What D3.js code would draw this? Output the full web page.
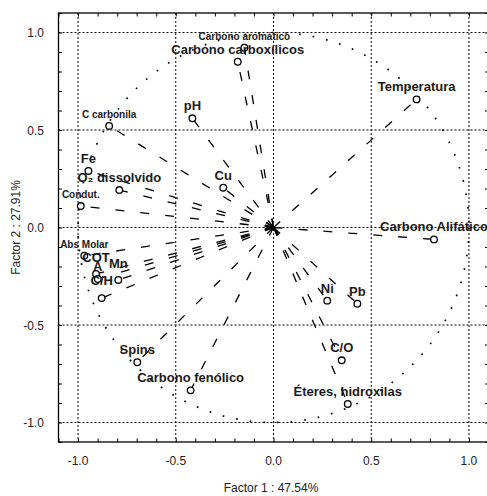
<!DOCTYPE html>
<html>
<head>
<meta charset="utf-8">
<script src="https://cdn.jsdelivr.net/npm/d3@7"></script>
<style>
  body { margin: 0; background: #fff; }
  svg { display: block; font-family: 'Liberation Sans', Arial, sans-serif; }
</style>
</head>
<body>
<div class="chart"></div>
<script>
// variable names and loadings
const names = [
  'Carbono aromático', 'Carbono carboxílicos', 'Temperatura', 'pH',
  'C carbonila', 'Fe', 'O₂ dissolvido', 'Cu', 'Condut.', 'Abs Molar',
  'COT', 'A', 'Mn', 'C/H', 'Spins', 'Carbono fenólico',
  'Carbono Alifático', 'Ni', 'Pb', 'C/O', 'Éteres, hidroxilas'
];
const factor1 = [
  -0.149, -0.183, 0.732, -0.415,
  -0.841, -0.947, -0.789, -0.257, -0.986, -0.968,
  -0.908, -0.899, -0.794, -0.879, -0.697, -0.424,
  0.821, 0.275, 0.429, 0.349, 0.380
];
const factor2 = [
  0.922, 0.850, 0.657, 0.560,
  0.521, 0.290, 0.192, 0.204, 0.110, -0.145,
  -0.238, -0.264, -0.269, -0.362, -0.691, -0.835,
  -0.061, -0.375, -0.391, -0.681, -0.905
];
const majorTicks = [-1.0, -0.5, 0.0, 0.5, 1.0];
const xTitle = 'Factor 1 : 47.54%';
const yTitle = 'Factor 2 : 27.91%';

const width = 487;
const height = 496;
const smallLabels = new Set(['Carbono aromático', 'C carbonila', 'Condut.', 'Abs Molar']);
// crowded labels sit a bit higher in the original
const labelLift = {'COT': 4, 'Mn': 4, 'C/H': 5};

const data = names.map((n, i) => ({name: n, f1: factor1[i], f2: factor2[i]}));

const x = d3.scaleLinear().domain([-1.1, 1.1]).range([58.5, 488.5]);
const y = d3.scaleLinear().domain([-1.1, 1.1]).range([442, 13]);
const minorTicks = d3.range(-11, 12).map((i) => i / 10);

const svg = d3
    .select('div.chart')
    .append('svg')
    .attr('width', width)
    .attr('height', height);

// dotted grid
svg.append('g')
    .selectAll('line.vgrid')
    .data(majorTicks)
    .enter()
    .append('line')
    .attr('x1', (d) => x(d)).attr('x2', (d) => x(d))
    .attr('y1', y(1.1)).attr('y2', y(-1.1))
    .attr('stroke', '#000')
    .attr('stroke-width', 1)
    .attr('stroke-dasharray', '2,2');

svg.append('g')
    .selectAll('line.hgrid')
    .data(majorTicks)
    .enter()
    .append('line')
    .attr('y1', (d) => y(d)).attr('y2', (d) => y(d))
    .attr('x1', x(-1.1)).attr('x2', x(1.1))
    .attr('stroke', '#000')
    .attr('stroke-width', 1)
    .attr('stroke-dasharray', '2,2');

// unit circle
svg.append('ellipse')
    .attr('cx', x(0))
    .attr('cy', y(0))
    .attr('rx', x(1) - x(0))
    .attr('ry', y(0) - y(1))
    .attr('fill', 'none')
    .attr('stroke', '#000')
    .attr('stroke-width', 1.7)
    .attr('stroke-dasharray', '1.7,12');

// loading vectors
svg.append('g')
    .selectAll('line')
    .data(data)
    .enter()
    .append('line')
    .attr('x1', x(0)).attr('y1', y(0))
    .attr('x2', (d) => x(d.f1))
    .attr('y2', (d) => y(d.f2))
    .attr('stroke', '#000')
    .attr('stroke-width', 1.3)
    .attr('stroke-dasharray', '9,16');

svg.append('g')
    .selectAll('circle')
    .data(data)
    .enter()
    .append('circle')
    .attr('cx', (d) => x(d.f1))
    .attr('cy', (d) => y(d.f2))
    .attr('r', 3.3)
    .attr('fill', '#fff')
    .attr('stroke', '#000')
    .attr('stroke-width', 1.3);

svg.append('g')
    .selectAll('text')
    .data(data)
    .enter()
    .append('text')
    .attr('x', (d) => x(d.f1))
    .attr('y', (d) => y(d.f2) - 8 - (labelLift[d.name] || 0))
    .attr('text-anchor', 'middle')
    .attr('font-weight', 'bold')
    .attr('font-size', (d) => smallLabels.has(d.name) ? '10px' : '13px')
    .attr('fill', '#1a1a1a')
    .text((d) => d.name);

// frame + inward ticks
svg.append('rect')
    .attr('x', x(-1.1)).attr('y', y(1.1))
    .attr('width', x(1.1) - x(-1.1))
    .attr('height', y(-1.1) - y(1.1))
    .attr('fill', 'none')
    .attr('stroke', '#000')
    .attr('stroke-width', 1.3);

const noLabel = () => '';
const tickLen = -3.5;

svg.append('g')
    .attr('transform', `translate(0,${y(-1.1)})`)
    .call(d3.axisBottom(x).tickValues(minorTicks).tickSize(tickLen).tickFormat(noLabel))
    .call((g) => g.select('.domain').remove());
svg.append('g')
    .attr('transform', `translate(0,${y(1.1)})`)
    .call(d3.axisTop(x).tickValues(minorTicks).tickSize(tickLen).tickFormat(noLabel))
    .call((g) => g.select('.domain').remove());
svg.append('g')
    .attr('transform', `translate(${x(-1.1)},0)`)
    .call(d3.axisLeft(y).tickValues(minorTicks).tickSize(tickLen).tickFormat(noLabel))
    .call((g) => g.select('.domain').remove());
svg.append('g')
    .attr('transform', `translate(${x(1.1)},0)`)
    .call(d3.axisRight(y).tickValues(minorTicks).tickSize(tickLen).tickFormat(noLabel))
    .call((g) => g.select('.domain').remove());

// tick labels
svg.append('g')
    .selectAll('text')
    .data(majorTicks)
    .enter()
    .append('text')
    .attr('x', (d) => x(d))
    .attr('y', 465)
    .attr('text-anchor', 'middle')
    .attr('font-size', '12px')
    .attr('fill', '#222')
    .text((d) => d.toFixed(1));

svg.append('g')
    .selectAll('text')
    .data(majorTicks)
    .enter()
    .append('text')
    .attr('x', 44)
    .attr('y', (d) => y(d) + 4.5)
    .attr('text-anchor', 'end')
    .attr('font-size', '12px')
    .attr('fill', '#222')
    .text((d) => d.toFixed(1));

svg.append('text')
    .attr('x', 271)
    .attr('y', 492)
    .attr('text-anchor', 'middle')
    .attr('font-size', '12px')
    .attr('fill', '#222')
    .text(xTitle);

svg.append('text')
    .attr('transform', `translate(20,${y(0)}) rotate(-90)`)
    .attr('text-anchor', 'middle')
    .attr('font-size', '12px')
    .attr('fill', '#222')
    .text(yTitle);
</script>
</body>
</html>
